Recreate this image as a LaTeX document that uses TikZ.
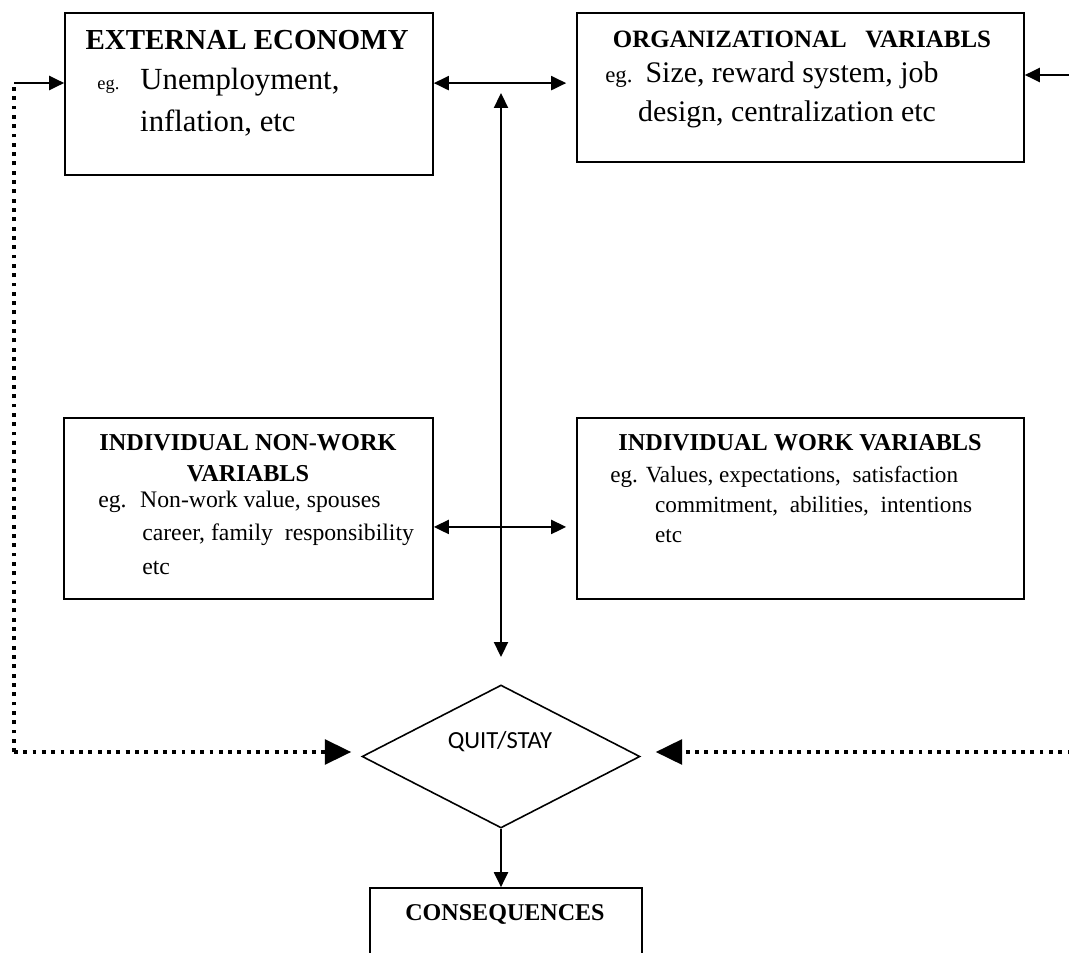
\documentclass[tikz,border=0pt]{standalone}
\usepackage{fontspec}
\setmainfont{Liberation Serif}
\newfontfamily\calibrifont{Carlito}
\usetikzlibrary{arrows.meta,shapes.geometric}

\begin{document}
\begin{tikzpicture}[
    x=0.02cm, y=-0.02cm,
    box/.style={draw,line width=1pt,inner sep=0pt},
    ttl/.style={inner sep=0pt,anchor=base,font=\bfseries\fontsize{#1}{18.2pt}\selectfont},
    body/.style 2 args={inner sep=0pt,anchor=base west,font=\fontsize{#1}{#2}\selectfont},
    arr/.style={-{Triangle[length=8.5pt,width=8pt]},line width=1pt},
    both/.style={{Triangle[length=8.5pt,width=8pt]}-{Triangle[length=8.5pt,width=8pt]},line width=1pt},
    dotline/.style={line width=2.2pt,dash pattern=on 2.2pt off 3.1pt},
    dotarr/.style={dotline,-{Triangle[length=15pt,width=14pt]}}
  ]
    \clip (0,0) rectangle (1069,953);

    % boxes
    \node[box,minimum width=7.36cm,minimum height=3.24cm] (ext) at (249,94) {};
    \node[box,minimum width=8.94cm,minimum height=2.98cm] (org) at (800.5,87.5) {};
    \node[box,minimum width=7.38cm,minimum height=3.62cm] (nonwork) at (248.5,508.5) {};
    \node[box,minimum width=8.94cm,minimum height=3.62cm] (work) at (800.5,508.5) {};
    \node[draw,diamond,aspect=1.94,minimum width=5.56cm,minimum height=2.86cm,
      inner sep=0pt,line width=0.9pt] (qs) at (501,756.5) {};
    \node[box,minimum width=5.44cm,minimum height=2.24cm] (cons) at (506,944) {};

    % texts
    \node[ttl=16.5] (extT) at (247,50) {EXTERNAL ECONOMY};
    \node[body={17.5}{23.8}] (extB) at (97,90)
      {\begin{tabular}[t]{@{}l@{}}{\fontsize{10.5}{12}\selectfont eg.}\hspace{12pt}Unemployment,\\
       \hspace*{24.4pt}inflation, etc\end{tabular}};
    \node[ttl=14.2] (orgT) at (802,48) {ORGANIZATIONAL\hspace{0.75em}VARIABLS};
    \node[body={17}{22.1}] (orgB) at (605,83)
      {\begin{tabular}[t]{@{}l@{}}{\fontsize{13}{15}\selectfont eg.}\hspace{7.4pt}Size, reward system, job\\
       \hspace*{18.7pt}design, centralization etc\end{tabular}};
    \node[ttl=13.8] (nonworkT) at (248,450)
      {\begin{tabular}[t]{@{}c@{}}INDIVIDUAL NON-WORK\\VARIABLS\end{tabular}};
    \node[body={13.5}{19.3}] (nonworkB) at (98,507)
      {\begin{tabular}[t]{@{}l@{}}eg.\hspace{7.7pt}Non-work value, spouses\\
       \hspace*{25pt}career, family\ \ responsibility\\
       \hspace*{25pt}etc\end{tabular}};
    \node[ttl=13.8] (workT) at (800,450) {INDIVIDUAL WORK VARIABLS};
    \node[body={13.2}{17.3}] (workB) at (610,482)
      {\begin{tabular}[t]{@{}l@{}}eg. Values, expectations,\ \ satisfaction\\
       \hspace*{25.5pt}commitment,\ \ abilities,\ \ intentions\\
       \hspace*{25.5pt}etc\end{tabular}};
    \node[inner sep=0pt,anchor=base,font=\calibrifont\fontsize{14}{16}\selectfont] (qsT) at (500,748) {QUIT/STAY};
    \node[ttl=13.7] (consT) at (505,920) {CONSEQUENCES};

    % free ends
    \coordinate (vtop) at (501,93);
    \coordinate (vbot) at (501,657);
    \coordinate (ltop) at (14,83);
    \coordinate (lbot) at (14,752);
    \coordinate (rin) at (1090,75);
    \coordinate (rbot) at (1090,752);

    % connectors
    \draw[both,shorten >=5.7pt] ([yshift=6.2pt]ext.east) -- ([yshift=6.2pt]ext.east -| org.west);
    \draw[both,shorten >=5.7pt] ([yshift=-10.5pt]nonwork.east) -- ([yshift=-10.5pt]nonwork.east -| work.west);
    \draw[both] (vtop) -- (vbot);
    \draw[arr] (rin) -- (rin -| org.east);
    \draw[dotline] (lbot) -- (ltop);
    \draw[arr] (ltop) -- (ltop -| ext.west);
    \draw[dotarr,shorten >=5.7pt] (lbot) -- (lbot -| qs.west);
    \draw[dotarr,shorten >=8.5pt] (rbot) -- (rbot -| qs.east);
    \draw[arr] (qs.south) -- (qs.south |- cons.north);
\end{tikzpicture}
\end{document}
